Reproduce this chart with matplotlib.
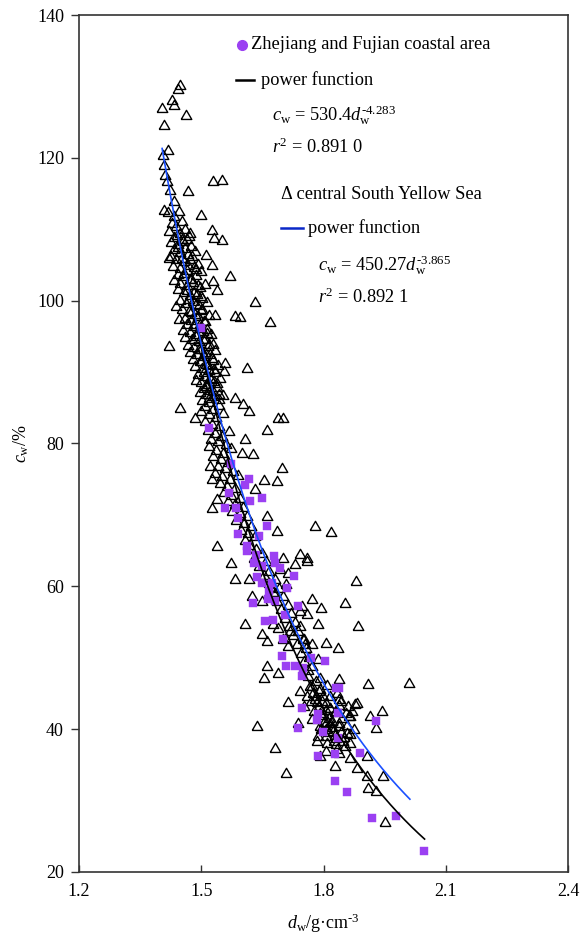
import matplotlib
matplotlib.use("Agg")
import matplotlib.pyplot as plt
import numpy as np
from matplotlib.lines import Line2D

plt.rcParams['font.family'] = ['Liberation Serif', 'DejaVu Serif']
plt.rcParams['mathtext.fontset'] = 'custom'
plt.rcParams['mathtext.rm'] = 'Liberation Serif'
plt.rcParams['mathtext.it'] = 'Liberation Serif:italic'
plt.rcParams['mathtext.bf'] = 'Liberation Serif:bold'

# ---------------- data ----------------
# central South Yellow Sea (open triangles) - dense upper band
tri_top_x = [1.419,1.434,1.445,1.428,1.453,1.439,1.422,1.459,1.447,1.433,
             1.465,1.425,1.442,1.455,1.476,1.434,1.449,1.467,1.426,1.484,
             1.439,1.457,1.473,1.491,1.431,1.448,1.465,1.481,1.500,1.442,
             1.455,1.472,1.488,1.434,1.449,1.464,1.479,1.496,1.509,1.442,
             1.457,1.473,1.489,1.503,1.447,1.463,1.479,1.495,1.515,1.439,
             1.453,1.469,1.485,1.500,1.518,1.459,1.475,1.491,1.507,1.445,
             1.465,1.481,1.498,1.514,1.455,1.472,1.488,1.504,1.523,1.461,
             1.477,1.494,1.510,1.528,1.467,1.483,1.500,1.516,1.473,1.533,
             1.490,1.506,1.522,1.479,1.496,1.512,1.528,1.485,1.502,1.540,
             1.518,1.534,1.493,1.509,1.525,1.500,1.516,1.532,1.546,1.488,
             1.506,1.522,1.538,1.496,1.512,1.528,1.544,1.503,1.519,1.553,
             1.440,1.452,1.470,1.444,1.460,1.478,1.452,1.468,1.486,1.458,
             1.476,1.492,1.466,1.482,1.500,1.470,1.486,1.502,1.476,1.492,
             1.508,1.482,1.498,1.514,1.488,1.504,1.520,1.494,1.510,1.526,
             1.500,1.516,1.532,1.506,1.522,1.538,1.512,1.528,1.544,1.520]
tri_top_y = [112.4,111.8,112.6,110.9,111.2,110.4,109.8,110.1,109.5,108.9,
             108.7,108.2,107.9,108.3,107.6,107.2,106.8,106.5,106.3,106.9,
             105.8,105.5,105.9,105.2,104.9,104.6,104.3,104.7,104.1,103.8,
             103.4,103.1,103.6,102.9,102.5,102.2,102.6,101.9,102.4,101.6,
             101.2,100.8,101.0,100.4,100.1,99.7,99.9,99.4,99.8,99.2,
             98.8,98.5,98.2,98.7,98.0,97.6,97.3,97.8,97.1,97.5,
             96.8,96.4,96.7,96.1,95.9,95.6,95.3,95.8,95.4,94.9,
             94.6,94.3,94.7,94.0,93.8,93.5,93.2,93.6,92.8,93.1,
             92.5,92.2,92.6,91.9,91.5,91.2,91.7,90.9,90.6,91.0,
             90.3,90.0,89.7,89.4,89.1,88.6,88.3,88.7,89.2,88.9,
             87.8,87.5,87.9,87.2,86.9,86.6,86.3,86.1,85.8,86.8,
             109.2,108.6,109.0,107.5,107.4,106.2,106.0,105.0,104.5,103.9,
             103.0,102.2,101.5,101.2,100.6,100.2,99.5,98.9,98.4,97.9,
             97.2,96.8,96.2,95.5,95.1,94.6,93.9,93.3,92.8,92.0,
             91.6,91.0,90.4,90.0,89.2,88.5,88.1,87.4,86.9,86.4]

# triangles - middle band
tri_mid_x = [1.510,1.528,1.544,1.500,1.518,1.536,1.554,1.508,1.526,1.544,
             1.516,1.534,1.552,1.568,1.524,1.542,1.560,1.518,1.536,1.554,
             1.572,1.530,1.548,1.566,1.540,1.558,1.578,1.534,1.552,1.570,
             1.589,1.546,1.564,1.582,1.556,1.574,1.595,1.566,1.584,1.603,
             1.576,1.595,1.613,1.586,1.605,1.623,1.597,1.615,1.633,1.607,
             1.617,1.635,1.650,1.629,1.658,1.642,1.666,1.654,1.680,1.666,
             1.690,1.676,1.700,1.686,1.712,1.696,1.720,1.706,1.730,1.716,
             1.738,1.726,1.749,1.736,1.757,1.745,1.765,1.753,1.773,1.761]
tri_mid_y = [85.2,84.9,85.4,84.5,84.1,83.7,84.3,83.2,82.8,82.4,
             81.9,81.5,81.1,81.8,80.7,80.3,79.9,79.6,79.1,78.7,
             79.4,78.2,77.8,77.4,76.9,76.5,76.1,75.8,75.4,75.0,
             75.6,74.5,74.1,73.7,73.2,72.8,72.4,71.9,71.5,71.1,
             70.6,70.2,69.8,69.3,68.9,68.4,67.9,67.5,67.1,66.5,
             65.8,65.2,64.6,64.0,63.5,62.8,62.2,61.6,61.0,60.4,
             59.8,59.2,58.6,58.0,57.4,56.8,56.2,55.6,55.0,54.4,
             53.8,53.2,52.6,51.9,51.3,50.7,50.1,49.5,48.9,48.3]

# triangles - dense lower cluster
tri_low_x = [1.763,1.781,1.773,1.789,1.781,1.797,1.789,1.805,1.797,1.813,
             1.805,1.821,1.813,1.829,1.821,1.837,1.829,1.846,1.837,1.854,
             1.817,1.833,1.809,1.825,1.842,1.850,1.858,1.862,1.801,1.817,
             1.785,1.793,1.809,1.833,1.866,1.777,1.769,1.842,1.852,1.874]
tri_low_y = [47.4,46.8,46.0,45.3,44.6,43.9,43.2,42.7,42.0,41.5,
             40.8,40.3,39.6,39.2,41.2,40.8,42.4,41.6,43.4,42.2,
             44.6,45.1,46.2,38.4,39.6,38.9,40.6,41.8,41.0,42.9,
             43.8,40.0,38.0,37.2,39.3,42.5,44.0,44.0,37.6,40.0]

# triangles - scattered points
tri_out_x = [1.447,1.442,1.428,1.432,1.404,1.463,1.408,1.418,1.406,1.408,
             1.410,1.416,1.530,1.550,1.424,1.468,1.432,1.408,1.499,1.526,
             1.532,1.550,1.473,1.570,1.632,1.582,1.594,1.669,1.420,1.612,
             1.448,1.582,1.603,1.618,1.689,1.701,1.420,1.512,1.526,1.530,
             1.538,1.534,1.558,1.556,
             1.485,1.661,1.608,1.628,1.600,1.522,1.697,1.526,1.653,1.687,
             1.632,1.538,1.526,1.661,1.779,1.819,1.685,1.538,1.574,1.701,
             1.743,1.760,1.730,
             1.582,1.616,1.879,1.624,1.649,1.771,1.853,1.795,1.743,1.759,
             1.608,1.787,1.885,1.649,1.661,1.751,1.771,1.807,1.835,1.713,
             1.661,1.689,1.653,1.787,1.839,1.910,1.713,1.881,1.944,1.791,
             1.767,1.775,1.791,1.799,1.759,1.779,1.807,1.815,1.839,1.861,
             1.869,1.743,1.751,1.791,1.831,1.701,1.693,1.713,1.759,1.709,
             1.681,1.747,1.743,1.755,1.677,1.689,1.717,
             1.637,1.681,1.709,1.738,1.771,1.787,1.807,1.827,1.839,1.865,
             1.881,1.906,1.910,1.930,1.946,1.950,1.906,1.914,1.930,1.865,
             1.877,1.865,1.857,1.839,1.815,1.831,1.807,1.791,1.807,1.823,
             1.783,1.791,1.831,1.848,2.010]
tri_out_y = [130.2,129.7,128.1,127.4,127.0,126.0,124.6,121.1,120.4,119.0,
             117.6,116.7,116.7,116.9,115.5,115.3,113.9,112.7,112.0,109.9,
             108.8,108.5,109.5,103.5,99.8,97.9,97.7,97.0,93.6,90.6,
             85.0,86.4,85.5,84.5,83.6,83.6,106.0,106.4,105.0,102.7,
             101.5,98.0,91.3,90.1,
             83.6,81.9,80.6,78.5,78.7,76.8,76.5,75.0,74.9,74.7,
             73.6,72.2,71.0,69.8,68.5,67.6,67.8,65.6,63.3,63.9,
             64.5,63.9,63.1,
             61.0,61.0,60.7,58.7,57.9,58.2,57.7,57.0,56.5,56.1,
             54.7,54.7,54.5,53.3,52.4,52.6,51.9,52.1,51.3,51.7,
             48.9,47.9,47.2,49.8,47.0,46.3,43.8,43.7,42.6,47.2,
             46.1,45.1,45.6,44.7,44.7,44.2,43.7,43.0,44.2,43.3,
             42.6,45.4,43.3,42.3,42.6,52.6,62.4,61.9,63.5,60.3,
             59.1,57.2,54.5,51.9,54.7,54.2,53.8,
             40.5,37.4,33.9,40.9,41.4,39.1,37.0,34.9,36.7,36.0,
             34.6,33.5,31.8,31.4,33.5,27.0,36.3,41.9,40.2,38.1,
             43.5,41.9,39.5,40.5,40.9,38.8,39.1,40.5,40.0,39.8,
             38.4,36.3,37.9,38.4,46.5]

# Zhejiang and Fujian coastal area (purple squares)
sq_x = [1.499,1.518,1.574,1.616,1.608,1.569,1.649,1.620,1.558,1.586,
        1.591,1.661,1.591,1.641,1.612,
        1.612,1.634,1.629,1.650,1.678,1.682,1.693,1.638,1.650,1.674,
        1.666,1.727,1.710,1.682,1.628,1.665,1.738,1.706,1.657,1.677,
        1.701,1.697,1.709,1.730,1.749,1.769,1.803,1.747,1.831,1.839,
        1.748,1.787,1.783,1.835,1.928,1.738,1.798,1.835,1.787,1.827,
        1.889,1.827,1.858,1.918,1.978,2.046]
sq_y = [96.2,82.2,77.1,75.0,74.2,73.1,72.3,72.0,71.0,71.0,
        69.6,68.4,67.3,67.0,65.6,
        64.9,64.4,63.2,62.8,64.2,63.3,62.5,61.3,60.4,60.5,
        59.3,61.4,59.8,57.9,57.6,58.2,57.2,56.0,55.2,55.3,
        52.6,50.3,48.9,48.9,48.5,50.0,49.6,47.4,45.7,45.7,
        42.9,42.1,41.3,42.3,41.2,40.2,39.6,38.7,36.3,36.5,
        36.7,32.8,31.2,27.6,27.9,22.9]

# power-function fits: c_w = a * d_w ** b
fit_zf = dict(a=530.4, b=-4.283, dmin=1.47, dmax=2.048)
fit_sy = dict(a=450.27, b=-3.865, dmin=1.404, dmax=2.012)

x_ticks = [1.2, 1.5, 1.8, 2.1, 2.4]
y_ticks = [20, 40, 60, 80, 100, 120, 140]

# ---------------- plot ----------------
PURPLE = '#9b40f2'
BLUE = '#1a50ff'
fig = plt.figure(figsize=(5.8, 9.36), dpi=100)
ax = fig.add_axes([79/580, 64/936, 489/580, 857/936])

tri_marker = [(-1, -0.75), (1, -0.75), (0, 0.98), (-1, -0.75)]
tx = tri_top_x + tri_mid_x + tri_low_x + tri_out_x
ty = tri_top_y + tri_mid_y + tri_low_y + tri_out_y
ax.plot(tx, ty, linestyle='none', marker=tri_marker, markersize=7.6,
        markerfacecolor='none', markeredgecolor='black', markeredgewidth=1.0,
        zorder=2)
ax.plot(sq_x, sq_y, linestyle='none', marker='s', markersize=6.2,
        markerfacecolor=PURPLE, markeredgecolor=PURPLE, markeredgewidth=0.3,
        zorder=3)

for fit, col in ((fit_zf, 'black'), (fit_sy, BLUE)):
    d = np.linspace(fit['dmin'], fit['dmax'], 200)
    ax.plot(d, fit['a'] * d ** fit['b'], color=col, lw=1.2, zorder=4)

ax.set_xlim(1.2, 2.4)
ax.set_ylim(20, 140)
ax.set_xticks(x_ticks)
ax.set_xticklabels([f"{v:.1f}" for v in x_ticks])
ax.set_yticks(y_ticks)
ax.tick_params(axis='x', direction='in', length=5, width=1.0, labelsize=13,
               color='#333333', pad=8)
ax.tick_params(axis='y', direction='out', length=5.8, width=1.0, labelsize=13,
               color='#333333', pad=5)
for s in ax.spines.values():
    s.set_linewidth(1.2)
    s.set_color('#333333')

ax.set_xlabel(r'$d_{\mathrm{w}}$/g·cm$^{\text{-3}}$', fontsize=13, labelpad=8)
ax.set_ylabel(r'$c_{\mathrm{w}}$/%', fontsize=13, labelpad=4)

# legend / annotation block
tr = ax.transAxes
fs = 13.2
ax.plot([0.333], [0.965], marker='o', markersize=7, color=PURPLE,
        transform=tr, clip_on=False, linestyle='none')
ax.text(0.352, 0.965, 'Zhejiang and Fujian coastal area', transform=tr,
        fontsize=fs, va='center', ha='left')
ax.add_line(Line2D([0.321, 0.358], [0.924, 0.924], color='black', lw=1.8,
                   transform=tr))
ax.text(0.372, 0.924, 'power function', transform=tr, fontsize=fs,
        va='center', ha='left')
ax.text(0.395, 0.883,
        r'$c_{\mathrm{w}}$ = 530.4$d_{\mathrm{w}}^{\text{-4.283}}$',
        transform=tr, fontsize=fs, va='center', ha='left')
ax.text(0.395, 0.846, r'$r^{2}$ = 0.891 0', transform=tr, fontsize=fs,
        va='center', ha='left')
ax.text(0.413, 0.790, 'Δ central South Yellow Sea', transform=tr, fontsize=fs,
        va='center', ha='left')
ax.add_line(Line2D([0.413, 0.458], [0.751, 0.751], color='#0a28c8', lw=1.8,
                   transform=tr))
ax.text(0.468, 0.751, 'power function', transform=tr, fontsize=fs,
        va='center', ha='left')
ax.text(0.489, 0.708,
        r'$c_{\mathrm{w}}$ = 450.27$d_{\mathrm{w}}^{\text{-3.865}}$',
        transform=tr, fontsize=fs, va='center', ha='left')
ax.text(0.489, 0.671, r'$r^{2}$ = 0.892 1', transform=tr, fontsize=fs,
        va='center', ha='left')

fig.savefig('out.png', dpi=100)
